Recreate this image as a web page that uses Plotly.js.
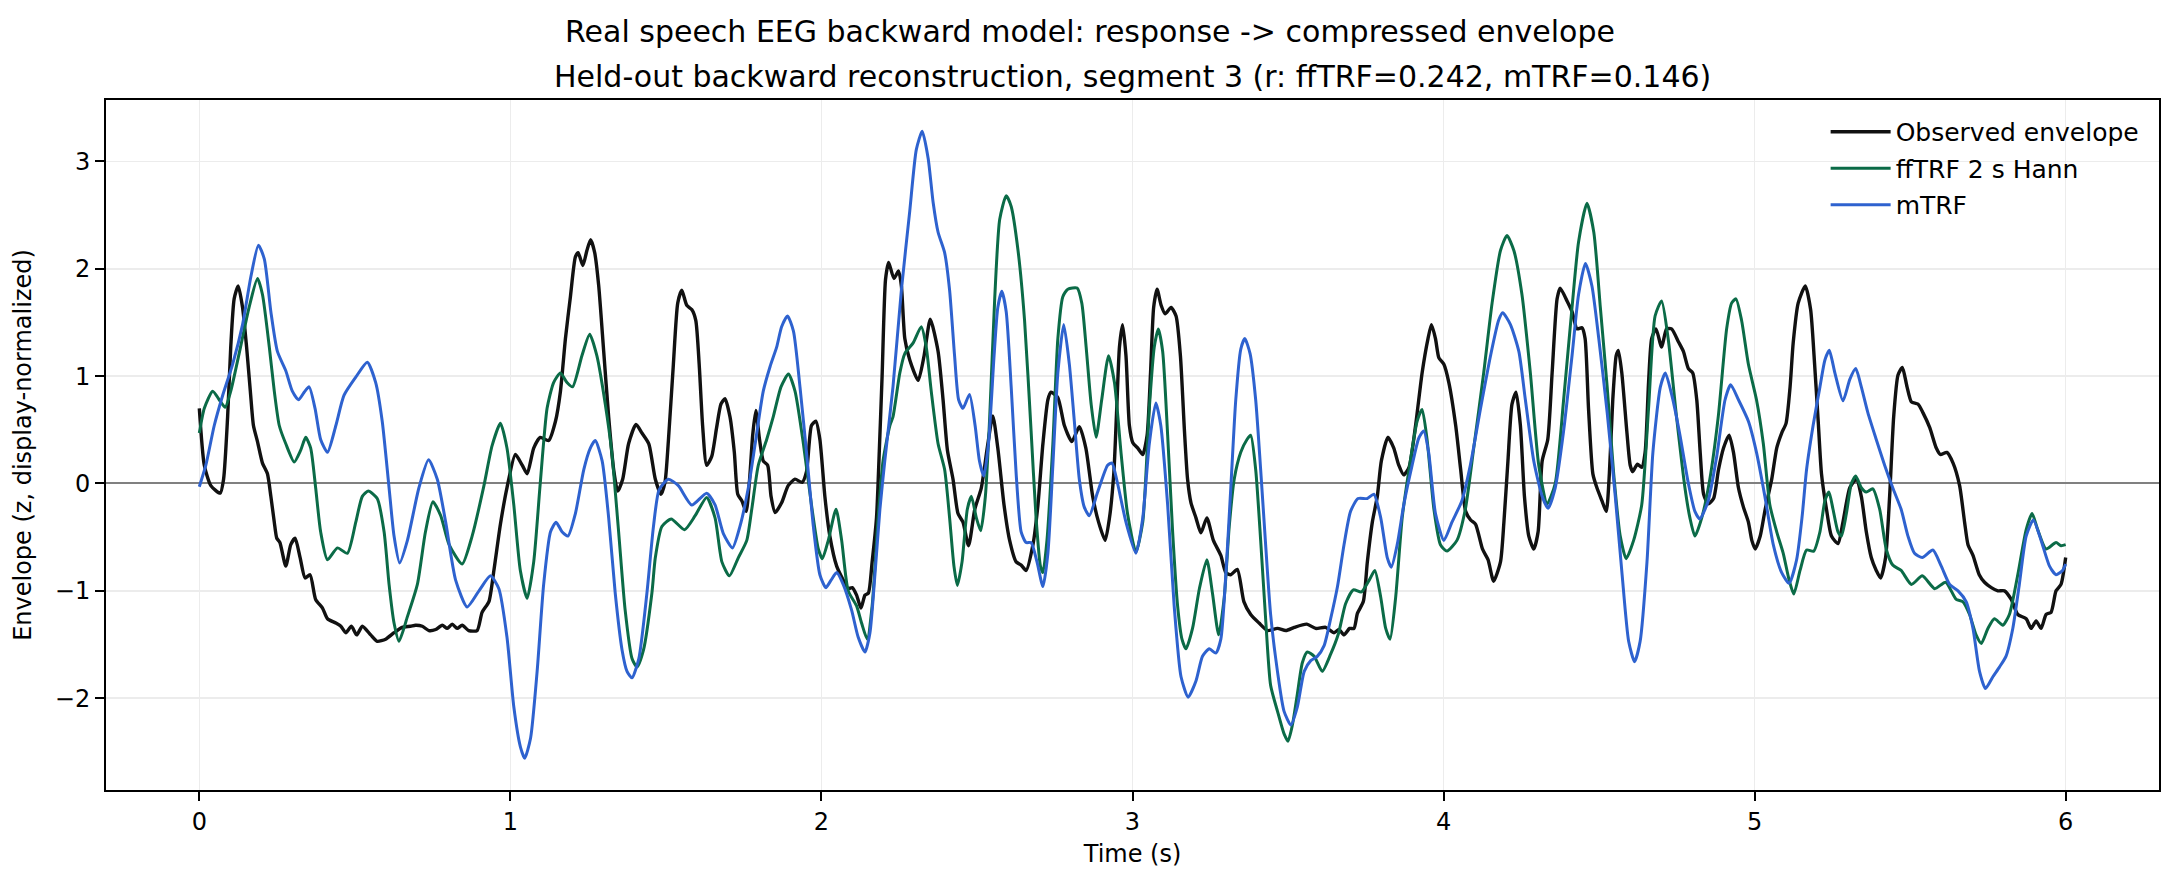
<!DOCTYPE html>
<html>
<head>
<meta charset="utf-8">
<script src="https://cdn.plot.ly/plotly-3.0.1.min.js"></script>
<style>html,body{margin:0;padding:0;background:#fff}#chart{width:2180px;height:884px}</style>
</head>
<body>
<div id="chart"></div>
<script>
// ---- Data ----
const seriesNames = ["Observed envelope", "ffTRF 2 s Hann", "mTRF"];

const tObserved = [0,0.016,0.037,0.067,0.078,0.091,0.101,0.112,0.125,0.139,0.152,0.164,0.174,0.187,0.203,0.219,0.230,0.241,0.249,0.259,0.278,0.294,0.308,0.324,0.340,0.356,0.374,0.396,0.412,0.439,0.455,0.471,0.489,0.506,0.524,0.551,0.572,0.599,0.626,0.652,0.679,0.695,0.717,0.738,0.760,0.781,0.797,0.813,0.829,0.845,0.866,0.893,0.909,0.931,0.947,0.968,0.989,1.016,1.038,1.054,1.075,1.096,1.123,1.145,1.161,1.177,1.193,1.209,1.218,1.233,1.246,1.258,1.271,1.284,1.300,1.316,1.332,1.345,1.361,1.380,1.404,1.423,1.445,1.466,1.484,1.497,1.508,1.524,1.538,1.551,1.567,1.583,1.596,1.607,1.618,1.631,1.647,1.663,1.677,1.690,1.706,1.720,1.731,1.744,1.758,1.768,1.779,1.789,1.801,1.813,1.827,1.838,1.851,1.872,1.893,1.915,1.938,1.952,1.968,1.982,1.995,2.011,2.027,2.049,2.070,2.086,2.099,2.113,2.127,2.140,2.151,2.163,2.177,2.186,2.195,2.206,2.216,2.233,2.248,2.257,2.268,2.284,2.311,2.330,2.350,2.375,2.391,2.405,2.423,2.439,2.455,2.473,2.493,2.514,2.533,2.551,2.567,2.587,2.605,2.626,2.642,2.658,2.680,2.696,2.712,2.728,2.738,2.760,2.781,2.805,2.829,2.850,2.872,2.891,2.912,2.926,2.940,2.950,2.958,2.968,2.979,2.990,3.001,3.017,3.033,3.047,3.058,3.068,3.079,3.092,3.105,3.124,3.140,3.154,3.167,3.177,3.188,3.204,3.220,3.239,3.260,3.284,3.300,3.316,3.337,3.358,3.380,3.407,3.434,3.466,3.493,3.520,3.560,3.589,3.621,3.648,3.664,3.680,3.698,3.712,3.723,3.742,3.755,3.771,3.787,3.800,3.821,3.840,3.856,3.872,3.889,3.910,3.931,3.950,3.961,3.974,3.985,4.001,4.017,4.039,4.055,4.071,4.087,4.103,4.125,4.143,4.161,4.183,4.194,4.207,4.220,4.233,4.247,4.260,4.274,4.290,4.304,4.317,4.335,4.349,4.365,4.375,4.397,4.413,4.429,4.445,4.455,4.466,4.480,4.493,4.509,4.523,4.533,4.544,4.555,4.562,4.573,4.589,4.600,4.608,4.623,4.637,4.648,4.659,4.669,4.683,4.701,4.717,4.733,4.755,4.771,4.787,4.801,4.814,4.825,4.836,4.851,4.868,4.884,4.900,4.918,4.932,4.948,4.964,4.980,4.991,5.002,5.018,5.034,5.055,5.071,5.087,5.101,5.114,5.124,5.140,5.163,5.180,5.192,5.205,5.215,5.231,5.247,5.268,5.284,5.306,5.327,5.343,5.359,5.375,5.391,5.405,5.421,5.434,5.447,5.461,5.475,5.490,5.504,5.525,5.541,5.563,5.584,5.597,5.618,5.638,5.659,5.675,5.686,5.702,5.722,5.739,5.761,5.782,5.803,5.825,5.846,5.873,5.889,5.905,5.921,5.937,5.953,5.969,5.985,6.000];
const yObserved = [0.70,0.17,-0.02,-0.09,0.04,0.62,1.27,1.72,1.84,1.64,1.27,0.86,0.54,0.39,0.19,0.09,-0.12,-0.36,-0.51,-0.55,-0.77,-0.57,-0.51,-0.69,-0.88,-0.85,-1.08,-1.16,-1.26,-1.30,-1.33,-1.39,-1.33,-1.41,-1.33,-1.41,-1.47,-1.45,-1.39,-1.34,-1.33,-1.32,-1.33,-1.37,-1.36,-1.32,-1.35,-1.31,-1.35,-1.32,-1.37,-1.37,-1.20,-1.10,-0.81,-0.38,-0.04,0.27,0.17,0.09,0.33,0.43,0.40,0.58,0.86,1.35,1.74,2.11,2.15,2.03,2.17,2.27,2.15,1.84,1.23,0.62,0.13,-0.07,0.04,0.37,0.55,0.47,0.37,0.04,-0.10,0.01,0.40,1.11,1.68,1.80,1.66,1.62,1.52,1.11,0.54,0.17,0.25,0.52,0.74,0.79,0.62,0.29,-0.10,-0.16,-0.26,0.00,0.45,0.68,0.41,0.21,0.17,-0.12,-0.27,-0.18,-0.02,0.04,0.01,0.11,0.54,0.58,0.41,-0.12,-0.49,-0.77,-0.90,-0.98,-0.97,-1.04,-1.16,-1.04,-1.02,-0.73,-0.32,0.30,1.00,1.90,2.06,1.91,1.98,1.84,1.35,1.15,0.96,1.19,1.53,1.23,0.78,0.31,0.04,-0.28,-0.36,-0.58,-0.24,-0.04,0.33,0.63,0.33,-0.20,-0.53,-0.73,-0.76,-0.81,-0.57,-0.20,0.37,0.78,0.85,0.80,0.54,0.39,0.53,0.33,-0.12,-0.36,-0.53,-0.32,0.10,0.75,1.27,1.48,1.19,0.54,0.38,0.33,0.27,0.45,1.03,1.64,1.81,1.66,1.58,1.64,1.56,1.19,0.49,0.04,-0.18,-0.32,-0.46,-0.32,-0.53,-0.67,-0.83,-0.85,-0.80,-1.10,-1.22,-1.30,-1.37,-1.35,-1.37,-1.34,-1.31,-1.35,-1.34,-1.39,-1.36,-1.41,-1.35,-1.35,-1.21,-1.10,-0.73,-0.36,-0.12,0.21,0.43,0.33,0.17,0.08,0.15,0.54,1.03,1.35,1.48,1.35,1.17,1.11,0.94,0.54,0.13,-0.26,-0.34,-0.38,-0.61,-0.71,-0.91,-0.73,-0.36,0.21,0.74,0.85,0.54,-0.12,-0.49,-0.61,-0.45,0.21,0.41,1.03,1.72,1.82,1.70,1.60,1.44,1.45,1.35,0.70,0.09,-0.04,-0.16,-0.26,0.09,0.78,1.19,1.24,1.03,0.49,0.17,0.11,0.18,0.15,0.29,0.94,1.35,1.44,1.27,1.44,1.44,1.32,1.23,1.07,1.03,0.78,0.29,-0.10,-0.19,-0.14,0.13,0.33,0.45,0.29,-0.04,-0.22,-0.36,-0.53,-0.61,-0.49,-0.24,0.04,0.33,0.47,0.56,0.90,1.31,1.68,1.84,1.62,1.15,0.55,0.09,-0.24,-0.49,-0.56,-0.36,-0.04,0.04,-0.12,-0.45,-0.69,-0.81,-0.88,-0.69,-0.12,0.62,1.01,1.08,0.90,0.76,0.74,0.66,0.52,0.33,0.27,0.29,0.19,-0.02,-0.36,-0.57,-0.67,-0.85,-0.92,-0.97,-1.00,-1.00,-1.08,-1.22,-1.26,-1.35,-1.28,-1.35,-1.22,-1.20,-1.00,-0.94,-0.69];

const tFfTRF = [0,0.016,0.043,0.064,0.083,0.101,0.128,0.160,0.187,0.203,0.225,0.241,0.257,0.278,0.305,0.326,0.342,0.358,0.374,0.390,0.412,0.444,0.476,0.503,0.524,0.543,0.572,0.594,0.610,0.626,0.642,0.669,0.701,0.727,0.751,0.776,0.803,0.845,0.877,0.915,0.941,0.968,0.989,1.011,1.032,1.054,1.075,1.096,1.118,1.139,1.161,1.182,1.200,1.230,1.255,1.278,1.305,1.326,1.348,1.369,1.391,1.407,1.428,1.455,1.466,1.487,1.517,1.560,1.594,1.631,1.658,1.680,1.704,1.733,1.760,1.776,1.797,1.824,1.845,1.870,1.894,1.915,1.942,1.968,1.990,2.003,2.022,2.047,2.065,2.086,2.113,2.129,2.147,2.163,2.182,2.198,2.220,2.230,2.252,2.268,2.295,2.321,2.337,2.353,2.375,2.396,2.412,2.426,2.437,2.452,2.469,2.482,2.498,2.512,2.527,2.541,2.557,2.573,2.594,2.610,2.632,2.653,2.674,2.690,2.704,2.712,2.725,2.744,2.760,2.776,2.792,2.822,2.837,2.851,2.867,2.883,2.901,2.923,2.942,2.963,2.984,3.011,3.033,3.054,3.070,3.083,3.097,3.113,3.129,3.145,3.159,3.172,3.193,3.215,3.239,3.257,3.277,3.295,3.311,3.327,3.348,3.368,3.380,3.396,3.412,3.428,3.444,3.466,3.487,3.500,3.514,3.530,3.546,3.562,3.584,3.610,3.637,3.662,3.685,3.710,3.736,3.761,3.779,3.798,3.814,3.828,3.846,3.867,3.889,3.915,3.931,3.947,3.969,3.990,4.011,4.043,4.070,4.097,4.129,4.156,4.183,4.204,4.226,4.252,4.279,4.306,4.333,4.359,4.386,4.413,4.434,4.461,4.483,4.504,4.526,4.547,4.568,4.587,4.611,4.637,4.659,4.680,4.701,4.722,4.749,4.776,4.792,4.808,4.830,4.856,4.883,4.910,4.926,4.940,4.958,4.980,5.006,5.028,5.049,5.071,5.092,5.111,5.126,5.146,5.167,5.190,5.210,5.226,5.239,5.252,5.268,5.279,5.295,5.311,5.325,5.343,5.359,5.380,5.402,5.423,5.444,5.471,5.504,5.539,5.579,5.614,5.648,5.669,5.691,5.712,5.729,5.750,5.771,5.798,5.819,5.846,5.873,5.892,5.910,5.937,5.969,5.985,6.000];
const yFfTRF = [0.47,0.70,0.86,0.78,0.71,0.86,1.21,1.64,1.91,1.76,1.27,0.86,0.54,0.37,0.20,0.31,0.43,0.33,-0.04,-0.45,-0.71,-0.60,-0.65,-0.36,-0.12,-0.07,-0.14,-0.45,-0.94,-1.30,-1.47,-1.24,-0.94,-0.45,-0.17,-0.30,-0.57,-0.75,-0.49,-0.02,0.35,0.56,0.33,-0.20,-0.81,-1.07,-0.73,0.00,0.70,0.94,1.03,0.94,0.90,1.19,1.39,1.19,0.74,0.29,-0.45,-1.18,-1.63,-1.71,-1.55,-1.02,-0.69,-0.40,-0.33,-0.43,-0.30,-0.13,-0.32,-0.73,-0.86,-0.69,-0.53,-0.24,0.17,0.41,0.62,0.90,1.02,0.86,0.37,-0.20,-0.61,-0.70,-0.53,-0.24,-0.53,-1.00,-1.14,-1.30,-1.45,-1.14,-0.32,0.21,0.54,0.62,1.03,1.21,1.31,1.46,1.27,0.86,0.37,0.13,-0.32,-0.77,-0.95,-0.73,-0.24,-0.12,-0.32,-0.44,-0.12,0.62,1.72,2.46,2.68,2.58,2.17,1.52,0.49,-0.32,-0.77,-0.83,-0.53,0.37,1.35,1.74,1.81,1.82,1.68,1.27,0.74,0.43,0.78,1.19,0.94,0.29,-0.28,-0.64,-0.36,0.70,1.27,1.44,1.23,0.45,-0.45,-1.14,-1.45,-1.54,-1.35,-0.98,-0.71,-1.02,-1.41,-1.06,-0.40,0.04,0.29,0.41,0.45,0.13,-0.53,-1.26,-1.88,-2.12,-2.33,-2.40,-2.25,-1.96,-1.67,-1.57,-1.61,-1.75,-1.59,-1.40,-1.12,-0.99,-1.01,-0.90,-0.81,-1.06,-1.35,-1.45,-1.06,-0.32,0.13,0.58,0.69,0.41,-0.24,-0.57,-0.63,-0.53,-0.24,0.33,1.03,1.68,2.17,2.31,2.17,1.76,1.03,0.17,-0.19,0.00,0.78,1.64,2.25,2.61,2.34,1.64,0.90,0.09,-0.49,-0.70,-0.53,-0.20,0.70,1.56,1.70,1.35,0.62,-0.04,-0.32,-0.49,-0.32,0.04,0.62,1.44,1.68,1.72,1.52,1.11,0.78,0.37,-0.20,-0.45,-0.65,-0.90,-1.03,-0.81,-0.62,-0.63,-0.45,-0.16,-0.08,-0.24,-0.45,-0.49,-0.28,0.00,0.07,-0.04,-0.08,-0.05,-0.24,-0.61,-0.76,-0.81,-0.94,-0.86,-0.98,-0.92,-1.08,-1.10,-1.22,-1.41,-1.49,-1.35,-1.26,-1.32,-1.22,-0.85,-0.43,-0.28,-0.43,-0.61,-0.55,-0.58,-0.57];

const tMTRF = [0,0.021,0.048,0.075,0.107,0.139,0.166,0.190,0.209,0.230,0.251,0.278,0.299,0.319,0.337,0.353,0.372,0.390,0.412,0.439,0.465,0.503,0.540,0.567,0.588,0.610,0.626,0.644,0.669,0.706,0.737,0.765,0.792,0.824,0.861,0.899,0.936,0.963,0.989,1.011,1.032,1.046,1.065,1.086,1.107,1.129,1.147,1.166,1.185,1.209,1.236,1.257,1.273,1.295,1.316,1.337,1.359,1.375,1.391,1.413,1.439,1.460,1.478,1.508,1.540,1.583,1.631,1.658,1.685,1.714,1.738,1.765,1.787,1.813,1.835,1.856,1.872,1.891,1.910,1.931,1.952,1.974,1.995,2.014,2.031,2.049,2.070,2.097,2.118,2.140,2.156,2.172,2.188,2.204,2.230,2.257,2.284,2.305,2.324,2.343,2.359,2.375,2.396,2.412,2.428,2.441,2.455,2.476,2.494,2.508,2.522,2.537,2.555,2.567,2.580,2.594,2.610,2.626,2.642,2.658,2.674,2.693,2.712,2.728,2.744,2.760,2.779,2.797,2.813,2.829,2.845,2.861,2.888,2.920,2.934,2.952,2.979,3.011,3.033,3.054,3.075,3.091,3.113,3.134,3.156,3.179,3.204,3.225,3.247,3.268,3.284,3.300,3.316,3.332,3.348,3.361,3.378,3.396,3.412,3.428,3.444,3.466,3.487,3.509,3.530,3.552,3.573,3.594,3.616,3.637,3.659,3.680,3.701,3.725,3.755,3.776,3.798,3.819,3.832,3.851,3.872,3.899,3.920,3.936,3.952,3.974,4.001,4.027,4.059,4.086,4.119,4.151,4.177,4.190,4.215,4.242,4.263,4.290,4.317,4.336,4.359,4.386,4.413,4.434,4.456,4.477,4.499,4.526,4.552,4.574,4.595,4.614,4.632,4.654,4.673,4.697,4.713,4.734,4.760,4.787,4.808,4.824,4.851,4.878,4.905,4.923,4.948,4.980,5.006,5.033,5.060,5.087,5.111,5.135,5.153,5.167,5.188,5.210,5.226,5.240,5.258,5.284,5.306,5.325,5.343,5.364,5.391,5.418,5.444,5.471,5.493,5.514,5.539,5.573,5.600,5.627,5.654,5.680,5.702,5.723,5.742,5.766,5.787,5.808,5.830,5.851,5.873,5.896,5.921,5.948,5.969,5.990,6.000];
const yMTRF = [-0.03,0.17,0.54,0.82,1.11,1.48,1.93,2.22,2.09,1.60,1.23,1.05,0.86,0.78,0.85,0.90,0.70,0.41,0.29,0.54,0.82,0.99,1.13,0.94,0.58,-0.04,-0.49,-0.74,-0.53,-0.04,0.22,0.04,-0.36,-0.90,-1.15,-1.00,-0.86,-0.98,-1.43,-2.08,-2.45,-2.56,-2.37,-1.75,-0.94,-0.45,-0.36,-0.45,-0.49,-0.28,0.13,0.33,0.40,0.21,-0.32,-1.02,-1.55,-1.75,-1.81,-1.63,-1.02,-0.40,-0.06,0.04,-0.02,-0.20,-0.09,-0.20,-0.47,-0.60,-0.40,-0.04,0.37,0.86,1.09,1.27,1.46,1.56,1.42,0.90,0.29,-0.40,-0.85,-0.97,-0.90,-0.83,-0.94,-1.18,-1.43,-1.57,-1.39,-0.85,-0.24,0.22,0.90,1.80,2.54,3.11,3.28,3.03,2.62,2.34,2.15,1.80,1.19,0.78,0.70,0.83,0.54,0.21,0.07,0.37,1.19,1.64,1.79,1.60,0.90,0.09,-0.45,-0.55,-0.55,-0.73,-0.96,-0.65,0.17,1.03,1.48,1.11,0.58,0.04,-0.22,-0.30,-0.08,0.17,0.19,0.00,-0.36,-0.65,-0.32,0.37,0.75,0.54,-0.20,-1.14,-1.80,-1.99,-1.84,-1.61,-1.54,-1.58,-1.45,-0.85,-0.04,0.78,1.25,1.35,1.21,0.78,0.13,-0.57,-1.22,-1.75,-2.12,-2.25,-2.08,-1.75,-1.65,-1.61,-1.51,-1.26,-0.96,-0.57,-0.26,-0.14,-0.14,-0.10,-0.32,-0.69,-0.78,-0.57,-0.20,0.17,0.42,0.49,0.29,-0.28,-0.53,-0.36,-0.16,0.17,0.70,1.19,1.52,1.59,1.48,1.23,0.78,0.21,-0.12,-0.23,-0.04,0.49,1.19,1.76,2.05,1.84,1.35,0.66,-0.12,-0.85,-1.47,-1.66,-1.47,-0.73,0.29,0.90,1.03,0.82,0.45,0.00,-0.26,-0.33,-0.16,0.25,0.78,0.92,0.78,0.58,0.29,-0.12,-0.57,-0.83,-0.93,-0.71,-0.30,0.13,0.54,0.90,1.15,1.24,1.03,0.77,0.97,1.07,0.90,0.66,0.41,0.17,-0.04,-0.24,-0.49,-0.65,-0.69,-0.62,-0.77,-0.94,-1.00,-1.10,-1.35,-1.75,-1.91,-1.80,-1.71,-1.61,-1.35,-0.94,-0.49,-0.34,-0.53,-0.77,-0.85,-0.81,-0.75];

const xTicks = [0, 1, 2, 3, 4, 5, 6];
const yTicks = [-2, -1, 0, 1, 2, 3];

const suptitleText = "Real speech EEG backward model: response -> compressed envelope";
const axesTitleText = "Held-out backward reconstruction, segment 3 (r: ffTRF=0.242, mTRF=0.146)";
const xLabel = "Time (s)";
const yLabel = "Envelope (z, display-normalized)";

// ---- Styles ----
const FONT = "DejaVu Sans, Liberation Sans, sans-serif";
const colors = ["#111111", "#0b6b47", "#2e62cf"];
const widths = [3.4, 3.0, 3.0];

const traces = [
  {x: tObserved, y: yObserved},
  {x: tFfTRF, y: yFfTRF},
  {x: tMTRF, y: yMTRF}
].map((d, i) => ({
  type: "scatter", mode: "lines", name: seriesNames[i],
  legendgroup: "g" + i,
  x: d.x, y: d.y,
  line: {color: colors[i], width: widths[i], shape: "spline", smoothing: 0.6},
  hoverinfo: "skip"
}));

const layout = {
  width: 2180, height: 884,
  margin: {l: 106, r: 21, t: 100, b: 94, pad: 0},
  paper_bgcolor: "#ffffff", plot_bgcolor: "#ffffff",
  font: {family: FONT, size: 24, color: "#000"},
  showlegend: true,
  title: {
    text: suptitleText, font: {family: FONT, size: 30, color: "#000"},
    xref: "container", x: 0.5, xanchor: "center",
    yref: "container", y: 1 - 31 / 884, yanchor: "middle"
  },
  annotations: [{
    text: axesTitleText, xref: "paper", yref: "paper", x: 0.5, y: 1,
    xanchor: "center", yanchor: "middle", yshift: 24, showarrow: false,
    font: {family: FONT, size: 30, color: "#000"}
  }],
  xaxis: {
    range: [-0.3, 6.3], tickvals: xTicks, ticktext: xTicks.map(String),
    ticks: "outside", ticklen: 9, tickwidth: 2, tickcolor: "#000",
    showline: true, linecolor: "#000", linewidth: 2, mirror: true,
    showgrid: true, gridcolor: "#ececec", gridwidth: 1.5, zeroline: false,
    tickfont: {family: FONT, size: 24, color: "#000"},
    title: {text: xLabel, font: {family: FONT, size: 24, color: "#000"}, standoff: 10}
  },
  yaxis: {
    range: [-2.855, 3.572], tickvals: yTicks,
    ticks: "outside", ticklen: 9, tickwidth: 2, tickcolor: "#000",
    showline: true, linecolor: "#000", linewidth: 2, mirror: true,
    showgrid: true, gridcolor: "#ececec", gridwidth: 1.5,
    zeroline: true, zerolinecolor: "#808080", zerolinewidth: 2,
    tickfont: {family: FONT, size: 24, color: "#000"},
    title: {text: yLabel, font: {family: FONT, size: 24, color: "#000"}, standoff: 16}
  },
  legend: {
    x: 0.993, xanchor: "right", y: 0.987, yanchor: "top",
    bgcolor: "rgba(0,0,0,0)", borderwidth: 0, tracegroupgap: 1, itemwidth: 60,
    font: {family: FONT, size: 25, color: "#000"}
  }
};

Plotly.newPlot("chart", traces, layout, {staticPlot: true, displayModeBar: false});
</script>
</body>
</html>
